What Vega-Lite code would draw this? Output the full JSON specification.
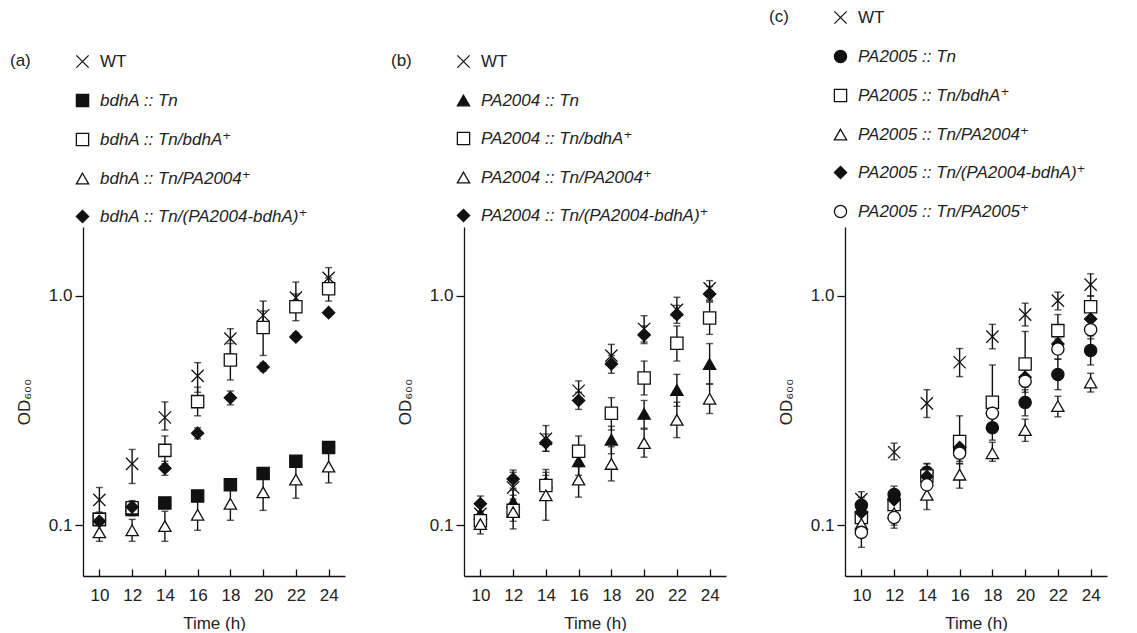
{
 "$schema": "https://vega.github.io/schema/vega-lite/v6.json",
 "background": "white",
 "padding": {"left": 10, "top": 9, "right": 5, "bottom": 0},
 "datasets": {"d": [
  {"p":"a","s":"WT","t":10,"v":0.129,"lo":0.114,"hi":0.146},
  {"p":"a","s":"WT","t":12,"v":0.185,"lo":0.152,"hi":0.214},
  {"p":"a","s":"WT","t":14,"v":0.295,"lo":0.26,"hi":0.345},
  {"p":"a","s":"WT","t":16,"v":0.448,"lo":0.38,"hi":0.512},
  {"p":"a","s":"WT","t":18,"v":0.652,"lo":0.56,"hi":0.72},
  {"p":"a","s":"WT","t":20,"v":0.824,"lo":0.70,"hi":0.95},
  {"p":"a","s":"WT","t":22,"v":0.983,"lo":0.86,"hi":1.15},
  {"p":"a","s":"WT","t":24,"v":1.20,"lo":1.08,"hi":1.33},
  {"p":"a","s":"bdhA :: Tn","t":10,"v":0.106,"lo":0.101,"hi":0.111},
  {"p":"a","s":"bdhA :: Tn","t":12,"v":0.117,"lo":0.111,"hi":0.123},
  {"p":"a","s":"bdhA :: Tn","t":14,"v":0.125,"lo":0.119,"hi":0.131},
  {"p":"a","s":"bdhA :: Tn","t":16,"v":0.134,"lo":0.128,"hi":0.140},
  {"p":"a","s":"bdhA :: Tn","t":18,"v":0.150,"lo":0.143,"hi":0.157},
  {"p":"a","s":"bdhA :: Tn","t":20,"v":0.168,"lo":0.160,"hi":0.176},
  {"p":"a","s":"bdhA :: Tn","t":22,"v":0.190,"lo":0.181,"hi":0.199},
  {"p":"a","s":"bdhA :: Tn","t":24,"v":0.218,"lo":0.208,"hi":0.228},
  {"p":"a","s":"bdhA :: Tn/bdhA⁺","t":10,"v":0.106,"lo":0.100,"hi":0.112},
  {"p":"a","s":"bdhA :: Tn/bdhA⁺","t":12,"v":0.119,"lo":0.110,"hi":0.128},
  {"p":"a","s":"bdhA :: Tn/bdhA⁺","t":14,"v":0.212,"lo":0.185,"hi":0.245},
  {"p":"a","s":"bdhA :: Tn/bdhA⁺","t":16,"v":0.346,"lo":0.30,"hi":0.40},
  {"p":"a","s":"bdhA :: Tn/bdhA⁺","t":18,"v":0.526,"lo":0.43,"hi":0.62},
  {"p":"a","s":"bdhA :: Tn/bdhA⁺","t":20,"v":0.728,"lo":0.55,"hi":0.86},
  {"p":"a","s":"bdhA :: Tn/bdhA⁺","t":22,"v":0.898,"lo":0.78,"hi":1.02},
  {"p":"a","s":"bdhA :: Tn/bdhA⁺","t":24,"v":1.076,"lo":0.95,"hi":1.20},
  {"p":"a","s":"bdhA :: Tn/PA2004⁺","t":10,"v":0.093,"lo":0.085,"hi":0.102},
  {"p":"a","s":"bdhA :: Tn/PA2004⁺","t":12,"v":0.095,"lo":0.085,"hi":0.106},
  {"p":"a","s":"bdhA :: Tn/PA2004⁺","t":14,"v":0.099,"lo":0.085,"hi":0.115},
  {"p":"a","s":"bdhA :: Tn/PA2004⁺","t":16,"v":0.111,"lo":0.095,"hi":0.130},
  {"p":"a","s":"bdhA :: Tn/PA2004⁺","t":18,"v":0.124,"lo":0.105,"hi":0.146},
  {"p":"a","s":"bdhA :: Tn/PA2004⁺","t":20,"v":0.139,"lo":0.116,"hi":0.166},
  {"p":"a","s":"bdhA :: Tn/PA2004⁺","t":22,"v":0.158,"lo":0.131,"hi":0.190},
  {"p":"a","s":"bdhA :: Tn/PA2004⁺","t":24,"v":0.180,"lo":0.153,"hi":0.212},
  {"p":"a","s":"bdhA :: Tn/(PA2004-bdhA)⁺","t":10,"v":0.104,"lo":0.100,"hi":0.108},
  {"p":"a","s":"bdhA :: Tn/(PA2004-bdhA)⁺","t":12,"v":0.120,"lo":0.114,"hi":0.126},
  {"p":"a","s":"bdhA :: Tn/(PA2004-bdhA)⁺","t":14,"v":0.177,"lo":0.165,"hi":0.190},
  {"p":"a","s":"bdhA :: Tn/(PA2004-bdhA)⁺","t":16,"v":0.252,"lo":0.238,"hi":0.266},
  {"p":"a","s":"bdhA :: Tn/(PA2004-bdhA)⁺","t":18,"v":0.360,"lo":0.335,"hi":0.385},
  {"p":"a","s":"bdhA :: Tn/(PA2004-bdhA)⁺","t":20,"v":0.490,"lo":0.470,"hi":0.510},
  {"p":"a","s":"bdhA :: Tn/(PA2004-bdhA)⁺","t":22,"v":0.663,"lo":0.640,"hi":0.690},
  {"p":"a","s":"bdhA :: Tn/(PA2004-bdhA)⁺","t":24,"v":0.846,"lo":0.820,"hi":0.870},

  {"p":"b","s":"WT","t":10,"v":0.112,"lo":0.098,"hi":0.128},
  {"p":"b","s":"WT","t":12,"v":0.146,"lo":0.125,"hi":0.170},
  {"p":"b","s":"WT","t":14,"v":0.238,"lo":0.210,"hi":0.272},
  {"p":"b","s":"WT","t":16,"v":0.386,"lo":0.340,"hi":0.426},
  {"p":"b","s":"WT","t":18,"v":0.549,"lo":0.490,"hi":0.615},
  {"p":"b","s":"WT","t":20,"v":0.718,"lo":0.630,"hi":0.820},
  {"p":"b","s":"WT","t":22,"v":0.870,"lo":0.800,"hi":0.987},
  {"p":"b","s":"WT","t":24,"v":1.080,"lo":0.960,"hi":1.167},
  {"p":"b","s":"PA2004 :: Tn","t":10,"v":0.112,"lo":0.104,"hi":0.121},
  {"p":"b","s":"PA2004 :: Tn","t":12,"v":0.126,"lo":0.112,"hi":0.142},
  {"p":"b","s":"PA2004 :: Tn","t":14,"v":0.154,"lo":0.135,"hi":0.175},
  {"p":"b","s":"PA2004 :: Tn","t":16,"v":0.190,"lo":0.165,"hi":0.220},
  {"p":"b","s":"PA2004 :: Tn","t":18,"v":0.236,"lo":0.205,"hi":0.270},
  {"p":"b","s":"PA2004 :: Tn","t":20,"v":0.306,"lo":0.265,"hi":0.350},
  {"p":"b","s":"PA2004 :: Tn","t":22,"v":0.389,"lo":0.330,"hi":0.455},
  {"p":"b","s":"PA2004 :: Tn","t":24,"v":0.505,"lo":0.413,"hi":0.620},
  {"p":"b","s":"PA2004 :: Tn/bdhA⁺","t":10,"v":0.1045,"lo":0.097,"hi":0.112},
  {"p":"b","s":"PA2004 :: Tn/bdhA⁺","t":12,"v":0.116,"lo":0.104,"hi":0.130},
  {"p":"b","s":"PA2004 :: Tn/bdhA⁺","t":14,"v":0.149,"lo":0.130,"hi":0.170},
  {"p":"b","s":"PA2004 :: Tn/bdhA⁺","t":16,"v":0.210,"lo":0.180,"hi":0.245},
  {"p":"b","s":"PA2004 :: Tn/bdhA⁺","t":18,"v":0.308,"lo":0.260,"hi":0.360},
  {"p":"b","s":"PA2004 :: Tn/bdhA⁺","t":20,"v":0.439,"lo":0.370,"hi":0.520},
  {"p":"b","s":"PA2004 :: Tn/bdhA⁺","t":22,"v":0.622,"lo":0.520,"hi":0.740},
  {"p":"b","s":"PA2004 :: Tn/bdhA⁺","t":24,"v":0.802,"lo":0.680,"hi":0.940},
  {"p":"b","s":"PA2004 :: Tn/PA2004⁺","t":10,"v":0.101,"lo":0.0915,"hi":0.111},
  {"p":"b","s":"PA2004 :: Tn/PA2004⁺","t":12,"v":0.114,"lo":0.0963,"hi":0.135},
  {"p":"b","s":"PA2004 :: Tn/PA2004⁺","t":14,"v":0.135,"lo":0.105,"hi":0.165},
  {"p":"b","s":"PA2004 :: Tn/PA2004⁺","t":16,"v":0.158,"lo":0.1325,"hi":0.185},
  {"p":"b","s":"PA2004 :: Tn/PA2004⁺","t":18,"v":0.185,"lo":0.156,"hi":0.220},
  {"p":"b","s":"PA2004 :: Tn/PA2004⁺","t":20,"v":0.228,"lo":0.198,"hi":0.262},
  {"p":"b","s":"PA2004 :: Tn/PA2004⁺","t":22,"v":0.288,"lo":0.241,"hi":0.344},
  {"p":"b","s":"PA2004 :: Tn/PA2004⁺","t":24,"v":0.356,"lo":0.307,"hi":0.413},
  {"p":"b","s":"PA2004 :: Tn/(PA2004-bdhA)⁺","t":10,"v":0.124,"lo":0.115,"hi":0.134},
  {"p":"b","s":"PA2004 :: Tn/(PA2004-bdhA)⁺","t":12,"v":0.159,"lo":0.145,"hi":0.174},
  {"p":"b","s":"PA2004 :: Tn/(PA2004-bdhA)⁺","t":14,"v":0.229,"lo":0.210,"hi":0.250},
  {"p":"b","s":"PA2004 :: Tn/(PA2004-bdhA)⁺","t":16,"v":0.350,"lo":0.320,"hi":0.380},
  {"p":"b","s":"PA2004 :: Tn/(PA2004-bdhA)⁺","t":18,"v":0.505,"lo":0.460,"hi":0.550},
  {"p":"b","s":"PA2004 :: Tn/(PA2004-bdhA)⁺","t":20,"v":0.676,"lo":0.620,"hi":0.740},
  {"p":"b","s":"PA2004 :: Tn/(PA2004-bdhA)⁺","t":22,"v":0.830,"lo":0.760,"hi":0.910},
  {"p":"b","s":"PA2004 :: Tn/(PA2004-bdhA)⁺","t":24,"v":1.020,"lo":0.950,"hi":1.100},

  {"p":"c","s":"WT","t":10,"v":0.130,"lo":0.118,"hi":0.140},
  {"p":"c","s":"WT","t":12,"v":0.208,"lo":0.193,"hi":0.228},
  {"p":"c","s":"WT","t":14,"v":0.340,"lo":0.295,"hi":0.390},
  {"p":"c","s":"WT","t":16,"v":0.514,"lo":0.445,"hi":0.590},
  {"p":"c","s":"WT","t":18,"v":0.665,"lo":0.588,"hi":0.752},
  {"p":"c","s":"WT","t":20,"v":0.829,"lo":0.740,"hi":0.930},
  {"p":"c","s":"WT","t":22,"v":0.954,"lo":0.870,"hi":1.040},
  {"p":"c","s":"WT","t":24,"v":1.120,"lo":1.000,"hi":1.250},
  {"p":"c","s":"PA2005 :: Tn","t":10,"v":0.122,"lo":0.112,"hi":0.132},
  {"p":"c","s":"PA2005 :: Tn","t":12,"v":0.136,"lo":0.125,"hi":0.148},
  {"p":"c","s":"PA2005 :: Tn","t":14,"v":0.170,"lo":0.155,"hi":0.186},
  {"p":"c","s":"PA2005 :: Tn","t":16,"v":0.212,"lo":0.190,"hi":0.235},
  {"p":"c","s":"PA2005 :: Tn","t":18,"v":0.266,"lo":0.235,"hi":0.300},
  {"p":"c","s":"PA2005 :: Tn","t":20,"v":0.343,"lo":0.300,"hi":0.390},
  {"p":"c","s":"PA2005 :: Tn","t":22,"v":0.454,"lo":0.390,"hi":0.530},
  {"p":"c","s":"PA2005 :: Tn","t":24,"v":0.578,"lo":0.500,"hi":0.670},
  {"p":"c","s":"PA2005 :: Tn/bdhA⁺","t":10,"v":0.108,"lo":0.100,"hi":0.117},
  {"p":"c","s":"PA2005 :: Tn/bdhA⁺","t":12,"v":0.123,"lo":0.112,"hi":0.135},
  {"p":"c","s":"PA2005 :: Tn/bdhA⁺","t":14,"v":0.164,"lo":0.145,"hi":0.185},
  {"p":"c","s":"PA2005 :: Tn/bdhA⁺","t":16,"v":0.232,"lo":0.200,"hi":0.300},
  {"p":"c","s":"PA2005 :: Tn/bdhA⁺","t":18,"v":0.344,"lo":0.270,"hi":0.500},
  {"p":"c","s":"PA2005 :: Tn/bdhA⁺","t":20,"v":0.505,"lo":0.420,"hi":0.700},
  {"p":"c","s":"PA2005 :: Tn/bdhA⁺","t":22,"v":0.706,"lo":0.600,"hi":0.830},
  {"p":"c","s":"PA2005 :: Tn/bdhA⁺","t":24,"v":0.898,"lo":0.800,"hi":1.000},
  {"p":"c","s":"PA2005 :: Tn/PA2004⁺","t":10,"v":0.1013,"lo":0.094,"hi":0.109},
  {"p":"c","s":"PA2005 :: Tn/PA2004⁺","t":12,"v":0.1128,"lo":0.100,"hi":0.127},
  {"p":"c","s":"PA2005 :: Tn/PA2004⁺","t":14,"v":0.1355,"lo":0.117,"hi":0.153},
  {"p":"c","s":"PA2005 :: Tn/PA2004⁺","t":16,"v":0.166,"lo":0.145,"hi":0.186},
  {"p":"c","s":"PA2005 :: Tn/PA2004⁺","t":18,"v":0.206,"lo":0.190,"hi":0.230},
  {"p":"c","s":"PA2005 :: Tn/PA2004⁺","t":20,"v":0.260,"lo":0.232,"hi":0.290},
  {"p":"c","s":"PA2005 :: Tn/PA2004⁺","t":22,"v":0.331,"lo":0.297,"hi":0.365},
  {"p":"c","s":"PA2005 :: Tn/PA2004⁺","t":24,"v":0.419,"lo":0.381,"hi":0.460},
  {"p":"c","s":"PA2005 :: Tn/(PA2004-bdhA)⁺","t":10,"v":0.1135,"lo":0.105,"hi":0.122},
  {"p":"c","s":"PA2005 :: Tn/(PA2004-bdhA)⁺","t":12,"v":0.129,"lo":0.120,"hi":0.139},
  {"p":"c","s":"PA2005 :: Tn/(PA2004-bdhA)⁺","t":14,"v":0.163,"lo":0.150,"hi":0.177},
  {"p":"c","s":"PA2005 :: Tn/(PA2004-bdhA)⁺","t":16,"v":0.218,"lo":0.200,"hi":0.238},
  {"p":"c","s":"PA2005 :: Tn/(PA2004-bdhA)⁺","t":18,"v":0.308,"lo":0.280,"hi":0.340},
  {"p":"c","s":"PA2005 :: Tn/(PA2004-bdhA)⁺","t":20,"v":0.442,"lo":0.400,"hi":0.490},
  {"p":"c","s":"PA2005 :: Tn/(PA2004-bdhA)⁺","t":22,"v":0.618,"lo":0.560,"hi":0.680},
  {"p":"c","s":"PA2005 :: Tn/(PA2004-bdhA)⁺","t":24,"v":0.794,"lo":0.730,"hi":0.860},
  {"p":"c","s":"PA2005 :: Tn/PA2005⁺","t":10,"v":0.093,"lo":0.080,"hi":0.105},
  {"p":"c","s":"PA2005 :: Tn/PA2005⁺","t":12,"v":0.108,"lo":0.097,"hi":0.120},
  {"p":"c","s":"PA2005 :: Tn/PA2005⁺","t":14,"v":0.150,"lo":0.135,"hi":0.166},
  {"p":"c","s":"PA2005 :: Tn/PA2005⁺","t":16,"v":0.206,"lo":0.185,"hi":0.230},
  {"p":"c","s":"PA2005 :: Tn/PA2005⁺","t":18,"v":0.308,"lo":0.275,"hi":0.345},
  {"p":"c","s":"PA2005 :: Tn/PA2005⁺","t":20,"v":0.425,"lo":0.380,"hi":0.475},
  {"p":"c","s":"PA2005 :: Tn/PA2005⁺","t":22,"v":0.587,"lo":0.530,"hi":0.650},
  {"p":"c","s":"PA2005 :: Tn/PA2005⁺","t":24,"v":0.713,"lo":0.650,"hi":0.780}
 ]},
 "spacing": 119,
 "bounds": "flush",
 "hconcat": [
  {
   "width": 262, "height": 349,
   "data": {"name": "d"},
   "transform": [{"filter": "datum.p == 'a'"}],
   "encoding": {"x": {"field": "t", "type": "quantitative", "title": "Time (h)", "scale": {"domain": [9, 25], "nice": false, "zero": false}, "axis": {"values": [10,12,14,16,18,20,22,24], "tickSize": -7, "labelPadding": 18, "titlePadding": 12}}},
   "layer": [
    {"mark": {"type": "rule", "color": "#111", "strokeWidth": 1.4}, "encoding": {"y": {"field": "lo", "type": "quantitative", "title": "OD₆₀₀", "scale": {"type": "log", "domain": [0.06, 2.0], "nice": false}, "axis": {"values": [0.1, 1], "labelExpr": "datum.value >= 1 ? '1.0' : '0.1'", "tickSize": 8, "labelPadding": 3, "titlePadding": 15}}, "y2": {"field": "hi"}}},
    {"mark": {"type": "tick", "orient": "horizontal", "color": "#111", "size": 7, "thickness": 1.4}, "encoding": {"y": {"field": "lo", "type": "quantitative", "title": "OD₆₀₀"}}},
    {"mark": {"type": "tick", "orient": "horizontal", "color": "#111", "size": 7, "thickness": 1.4}, "encoding": {"y": {"field": "hi", "type": "quantitative", "title": "OD₆₀₀"}}},
    {"mark": {"type": "point", "size": 150, "strokeWidth": 1.3, "opacity": 1}, "encoding": {
      "y": {"field": "v", "type": "quantitative", "title": "OD₆₀₀"},
      "shape": {"field": "s", "type": "nominal", "title": "(a)", "scale": {"domain": ["WT", "bdhA :: Tn", "bdhA :: Tn/bdhA⁺", "bdhA :: Tn/PA2004⁺", "bdhA :: Tn/(PA2004-bdhA)⁺"], "range": ["M-1,-1L1,1M-1,1L1,-1", "square", "square", "triangle-up", "diamond"]}, "legend": {"legendX": -73, "legendY": -174, "labelFontStyle": {"expr": "datum.value == 'WT' ? 'normal' : 'italic'"}}},
      "fill": {"field": "s", "type": "nominal", "title": "(a)", "scale": {"domain": ["WT", "bdhA :: Tn", "bdhA :: Tn/bdhA⁺", "bdhA :: Tn/PA2004⁺", "bdhA :: Tn/(PA2004-bdhA)⁺"], "range": ["#111", "#111", "white", "white", "#111"]}, "legend": {"legendX": -73, "legendY": -174, "labelFontStyle": {"expr": "datum.value == 'WT' ? 'normal' : 'italic'"}}},
      "stroke": {"field": "s", "type": "nominal", "title": "(a)", "scale": {"domain": ["WT", "bdhA :: Tn", "bdhA :: Tn/bdhA⁺", "bdhA :: Tn/PA2004⁺", "bdhA :: Tn/(PA2004-bdhA)⁺"], "range": ["#111", "#111", "#111", "#111", "#111"]}, "legend": {"legendX": -73, "legendY": -174, "labelFontStyle": {"expr": "datum.value == 'WT' ? 'normal' : 'italic'"}}}
    }}
   ]
  },
  {
   "width": 262, "height": 349,
   "data": {"name": "d"},
   "transform": [{"filter": "datum.p == 'b'"}],
   "encoding": {"x": {"field": "t", "type": "quantitative", "title": "Time (h)", "scale": {"domain": [9, 25], "nice": false, "zero": false}, "axis": {"values": [10,12,14,16,18,20,22,24], "tickSize": -7, "labelPadding": 18, "titlePadding": 12}}},
   "layer": [
    {"mark": {"type": "rule", "color": "#111", "strokeWidth": 1.4}, "encoding": {"y": {"field": "lo", "type": "quantitative", "title": "OD₆₀₀", "scale": {"type": "log", "domain": [0.06, 2.0], "nice": false}, "axis": {"values": [0.1, 1], "labelExpr": "datum.value >= 1 ? '1.0' : '0.1'", "tickSize": 8, "labelPadding": 3, "titlePadding": 15}}, "y2": {"field": "hi"}}},
    {"mark": {"type": "tick", "orient": "horizontal", "color": "#111", "size": 7, "thickness": 1.4}, "encoding": {"y": {"field": "lo", "type": "quantitative", "title": "OD₆₀₀"}}},
    {"mark": {"type": "tick", "orient": "horizontal", "color": "#111", "size": 7, "thickness": 1.4}, "encoding": {"y": {"field": "hi", "type": "quantitative", "title": "OD₆₀₀"}}},
    {"mark": {"type": "point", "size": 150, "strokeWidth": 1.3, "opacity": 1}, "encoding": {
      "y": {"field": "v", "type": "quantitative", "title": "OD₆₀₀"},
      "shape": {"field": "s", "type": "nominal", "title": "(b)", "scale": {"domain": ["WT", "PA2004 :: Tn", "PA2004 :: Tn/bdhA⁺", "PA2004 :: Tn/PA2004⁺", "PA2004 :: Tn/(PA2004-bdhA)⁺"], "range": ["M-1,-1L1,1M-1,1L1,-1", "triangle-up", "square", "triangle-up", "diamond"]}, "legend": {"legendX": -73, "legendY": -174, "labelFontStyle": {"expr": "datum.value == 'WT' ? 'normal' : 'italic'"}}},
      "fill": {"field": "s", "type": "nominal", "title": "(b)", "scale": {"domain": ["WT", "PA2004 :: Tn", "PA2004 :: Tn/bdhA⁺", "PA2004 :: Tn/PA2004⁺", "PA2004 :: Tn/(PA2004-bdhA)⁺"], "range": ["#111", "#111", "white", "white", "#111"]}, "legend": {"legendX": -73, "legendY": -174, "labelFontStyle": {"expr": "datum.value == 'WT' ? 'normal' : 'italic'"}}},
      "stroke": {"field": "s", "type": "nominal", "title": "(b)", "scale": {"domain": ["WT", "PA2004 :: Tn", "PA2004 :: Tn/bdhA⁺", "PA2004 :: Tn/PA2004⁺", "PA2004 :: Tn/(PA2004-bdhA)⁺"], "range": ["#111", "#111", "#111", "#111", "#111"]}, "legend": {"legendX": -73, "legendY": -174, "labelFontStyle": {"expr": "datum.value == 'WT' ? 'normal' : 'italic'"}}}
    }}
   ]
  },
  {
   "width": 262, "height": 349,
   "data": {"name": "d"},
   "transform": [{"filter": "datum.p == 'c'"}],
   "encoding": {"x": {"field": "t", "type": "quantitative", "title": "Time (h)", "scale": {"domain": [9, 25], "nice": false, "zero": false}, "axis": {"values": [10,12,14,16,18,20,22,24], "tickSize": -7, "labelPadding": 18, "titlePadding": 12}}},
   "layer": [
    {"mark": {"type": "rule", "color": "#111", "strokeWidth": 1.4}, "encoding": {"y": {"field": "lo", "type": "quantitative", "title": "OD₆₀₀", "scale": {"type": "log", "domain": [0.06, 2.0], "nice": false}, "axis": {"values": [0.1, 1], "labelExpr": "datum.value >= 1 ? '1.0' : '0.1'", "tickSize": 8, "labelPadding": 3, "titlePadding": 15}}, "y2": {"field": "hi"}}},
    {"mark": {"type": "tick", "orient": "horizontal", "color": "#111", "size": 7, "thickness": 1.4}, "encoding": {"y": {"field": "lo", "type": "quantitative", "title": "OD₆₀₀"}}},
    {"mark": {"type": "tick", "orient": "horizontal", "color": "#111", "size": 7, "thickness": 1.4}, "encoding": {"y": {"field": "hi", "type": "quantitative", "title": "OD₆₀₀"}}},
    {"mark": {"type": "point", "size": 150, "strokeWidth": 1.3, "opacity": 1}, "encoding": {
      "y": {"field": "v", "type": "quantitative", "title": "OD₆₀₀"},
      "shape": {"field": "s", "type": "nominal", "title": "(c)", "scale": {"domain": ["WT", "PA2005 :: Tn", "PA2005 :: Tn/bdhA⁺", "PA2005 :: Tn/PA2004⁺", "PA2005 :: Tn/(PA2004-bdhA)⁺", "PA2005 :: Tn/PA2005⁺"], "range": ["M-1,-1L1,1M-1,1L1,-1", "circle", "square", "triangle-up", "diamond", "circle"]}, "legend": {"legendX": -76, "legendY": -218, "labelFontStyle": {"expr": "datum.value == 'WT' ? 'normal' : 'italic'"}}},
      "fill": {"field": "s", "type": "nominal", "title": "(c)", "scale": {"domain": ["WT", "PA2005 :: Tn", "PA2005 :: Tn/bdhA⁺", "PA2005 :: Tn/PA2004⁺", "PA2005 :: Tn/(PA2004-bdhA)⁺", "PA2005 :: Tn/PA2005⁺"], "range": ["#111", "#111", "white", "white", "#111", "white"]}, "legend": {"legendX": -76, "legendY": -218, "labelFontStyle": {"expr": "datum.value == 'WT' ? 'normal' : 'italic'"}}},
      "stroke": {"field": "s", "type": "nominal", "title": "(c)", "scale": {"domain": ["WT", "PA2005 :: Tn", "PA2005 :: Tn/bdhA⁺", "PA2005 :: Tn/PA2004⁺", "PA2005 :: Tn/(PA2004-bdhA)⁺", "PA2005 :: Tn/PA2005⁺"], "range": ["#111", "#111", "#111", "#111", "#111", "#111"]}, "legend": {"legendX": -76, "legendY": -218, "labelFontStyle": {"expr": "datum.value == 'WT' ? 'normal' : 'italic'"}}}
    }}
   ]
  }
 ],
 "resolve": {"scale": {"shape": "independent", "fill": "independent", "stroke": "independent"}},
 "config": {
  "view": {"stroke": null},
  "font": "Liberation Sans, DejaVu Sans",
  "axis": {"grid": false, "domainColor": "#111", "tickColor": "#111", "labelColor": "#222", "titleColor": "#222", "labelFontSize": 17, "titleFontSize": 17, "titleFontWeight": "normal", "domainWidth": 1.3, "tickWidth": 1.3, "labelFont": "Liberation Sans, DejaVu Sans", "titleFont": "Liberation Sans, DejaVu Sans"},
  "legend": {"orient": "none", "direction": "vertical", "titleOrient": "left", "titleAnchor": "start", "titleFontSize": 17, "titleFontWeight": "normal", "titleColor": "#222", "titlePadding": 43, "labelFontSize": 17, "labelColor": "#222", "labelLimit": 500, "labelOffset": 9, "symbolSize": 150, "symbolStrokeWidth": 1.3, "rowPadding": 20, "labelFont": "Liberation Sans, DejaVu Sans", "titleFont": "Liberation Sans, DejaVu Sans"}
 }
}
